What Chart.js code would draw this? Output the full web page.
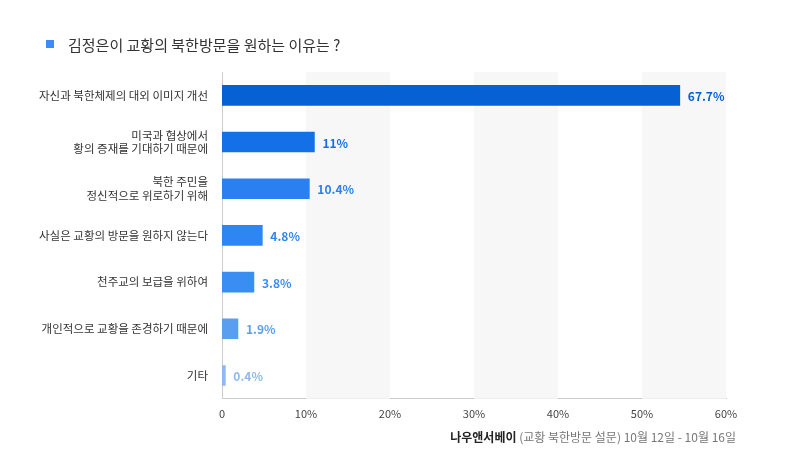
<!DOCTYPE html>
<html><head><meta charset="utf-8">
<script src="https://cdn.jsdelivr.net/npm/chart.js@4"></script>
<style>html,body{margin:0;padding:0;background:#fff}#w{width:800px;height:470px;position:relative}</style>
</head><body><div id="w"><canvas id="c"></canvas></div>
<script>
const categories = [["자신과 북한체제의 대외 이미지 개선"],["미국과 협상에서","황의 증재를 기대하기 때문에"],["북한 주민을","정신적으로 위로하기 위해"],["사실은 교황의 방문을 원하지 않는다"],["천주교의 보급을 위하여"],["개인적으로 교황을 존경하기 때문에"],["기타"]];
const values = [67.7, 11, 10.4, 4.8, 3.8, 1.9, 0.4];
const barColors = ["#0561d4","#1470e6","#2a80ee","#2f86f3","#3a8ef3","#5a9ef0","#8fb9ee"];
const xTicks = [0,10,20,30,40,50,60];
const axisMax = 60;
const breakAt = 54.5; // the reference draws the out-of-range bar broken at this point
const title = "김정은이 교황의 북한방문을 원하는 이유는 ?";
const sourceBold = "나우앤서베이";
const sourceRest = " (교황 북한방문 설문) 10월 12일 - 10월 16일";

const font = "'Noto Sans CJK KR','Noto Sans',sans-serif";
const deco = {
  id:'deco',
  beforeDatasetsDraw(ch){
    const {ctx, chartArea:a, scales:{x}} = ch;
    ctx.save(); ctx.fillStyle='#f7f7f7';
    for(let i=1;i<xTicks.length-1;i+=2){
      const l=x.getPixelForValue(xTicks[i]), r=x.getPixelForValue(xTicks[i+1]);
      ctx.fillRect(l,a.top,r-l,a.bottom-a.top);
    }
    ctx.restore();
  },
  afterDatasetsDraw(ch){
    const {ctx} = ch; const meta = ch.getDatasetMeta(0);
    ctx.save(); ctx.font="bold 12px "+font; ctx.textBaseline='middle';
    meta.data.forEach((b,i)=>{ ctx.fillStyle=barColors[i]; ctx.fillText(values[i]+'%', b.x+8, b.y+1); });
    ctx.restore();
  },
  afterDraw(ch){
    const ctx=ch.ctx; ctx.save();
    ctx.fillStyle='#3a8ef3'; ctx.fillRect(46,40,8,8);
    ctx.fillStyle='#333'; ctx.font="15px "+font; ctx.textBaseline='middle';
    ctx.fillText(title,68,45);
    ctx.textAlign='right';
    ctx.font="12px "+font; ctx.fillStyle='#777';
    const rw=ctx.measureText(sourceRest).width;
    ctx.fillText(sourceRest,736,437);
    ctx.font="bold 12px "+font; ctx.fillStyle='#222';
    ctx.fillText(sourceBold,736-rw,437);
    ctx.restore();
  }
};
new Chart(document.getElementById('c'),{
  type:'bar',
  data:{labels:categories,datasets:[{data:values.map(v=>Math.min(v,breakAt)),backgroundColor:barColors,barThickness:20}]},
  options:{
    indexAxis:'y',responsive:true,maintainAspectRatio:false,animation:false,
    layout:{padding:{top:72,right:74,bottom:42,left:0}},
    plugins:{legend:{display:false},tooltip:{enabled:false}},
    scales:{
      x:{min:0,max:axisMax,
        afterBuildTicks(s){s.ticks=xTicks.map(v=>({value:v}));},
        ticks:{color:'#444',font:{size:11,family:font},padding:8,callback:v=>v===0?'0':v+'%'},
        grid:{display:false,drawTicks:false},border:{color:'#ccc'}},
      y:{afterFit(s){s.width=222;},
        ticks:{color:'#333',font:{size:11.5,family:font},padding:14},
        grid:{display:false,drawTicks:false},border:{color:'#ccc'}}
    }
  },
  plugins:[deco]
});
</script></body></html>
